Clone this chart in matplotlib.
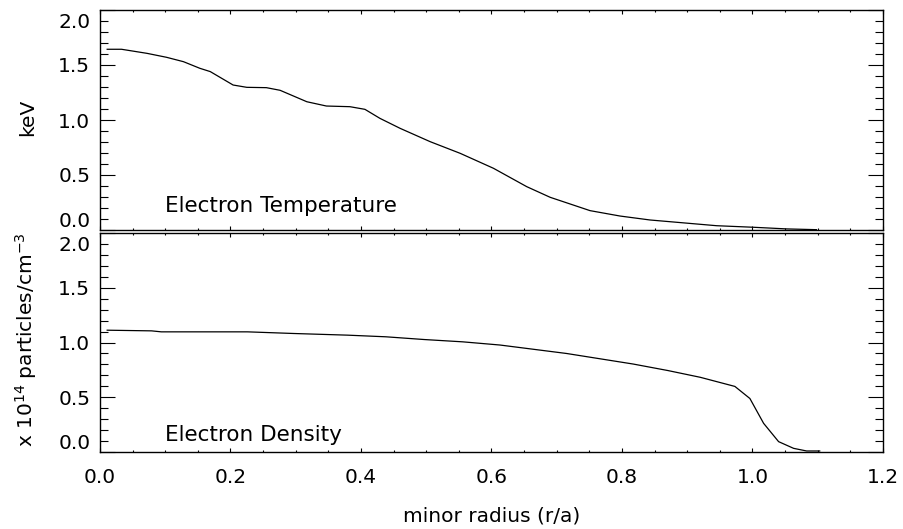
import matplotlib
matplotlib.use("Agg")
import matplotlib.pyplot as plt
import matplotlib.ticker as ticker
from matplotlib.transforms import ScaledTranslation

plt.rcParams["font.family"] = ["DejaVu Sans"]
plt.rcParams["mathtext.fontset"] = "dejavusans"

# electron temperature profile (keV) vs minor radius r/a
r_te = [0.011, 0.033, 0.072, 0.102, 0.128, 0.153, 0.169, 0.204, 0.225, 0.255,
        0.276, 0.317, 0.347, 0.383, 0.406, 0.429, 0.460, 0.506, 0.552, 0.603,
        0.654, 0.690, 0.751, 0.797, 0.843, 0.945, 1.001, 1.052, 1.098]
te = [1.643, 1.643, 1.606, 1.570, 1.530, 1.470, 1.440, 1.318, 1.297, 1.294,
      1.270, 1.166, 1.127, 1.121, 1.097, 1.015, 0.924, 0.803, 0.697, 0.561,
      0.394, 0.297, 0.176, 0.127, 0.091, 0.039, 0.025, 0.010, 0.003]

# electron density profile (1e14 cm^-3)
r_ne = [0.011, 0.079, 0.094, 0.226, 0.297, 0.379, 0.438, 0.497, 0.556, 0.613,
        0.715, 0.817, 0.870, 0.920, 0.973, 0.996, 1.017, 1.040, 1.063, 1.083,
        1.103]
ne = [1.112, 1.106, 1.097, 1.097, 1.082, 1.067, 1.052, 1.027, 1.006, 0.977,
      0.900, 0.804, 0.745, 0.683, 0.600, 0.490, 0.264, 0.097, 0.036, 0.012,
      0.012]

yticks = [0.0, 0.5, 1.0, 1.5, 2.0]
xticks = [0.0, 0.2, 0.4, 0.6, 0.8, 1.0, 1.2]
fs = 14.5

W, H = 904, 529
fig = plt.figure(figsize=(W / 100, H / 100), dpi=100)
ax1 = fig.add_axes([100 / W, 1 - 230 / H, 783 / W, 220 / H])
ax2 = fig.add_axes([100 / W, 1 - 452.3 / H, 783 / W, 219.6 / H])

ax1.plot(r_te, te, color="k", linewidth=0.9)
ax2.plot(r_ne, ne, color="k", linewidth=0.9)

for ax in (ax1, ax2):
    ax.set_xlim(0, 1.2)
    ax.set_ylim(0, 2.0)
    ax.set_xticks(xticks)
    ax.set_yticks(yticks)
    ax.xaxis.set_minor_locator(ticker.MultipleLocator(0.05))
    ax.yaxis.set_minor_locator(ticker.MultipleLocator(0.1))
    ax.xaxis.set_major_formatter(ticker.FormatStrFormatter("%.1f"))
    ax.yaxis.set_major_formatter(ticker.FormatStrFormatter("%.1f"))
    ax.tick_params(axis="both", which="both", direction="in", top=True,
                   right=True, labelsize=fs, width=0.8)
    ax.tick_params(axis="y", which="major", length=10.8, pad=7)
    ax.tick_params(axis="y", which="minor", length=5.5)
    ax.tick_params(axis="x", which="major", length=3.2, pad=11)
    ax.tick_params(axis="x", which="minor", length=1.6)
    for s in ax.spines.values():
        s.set_linewidth(1.0)

ax1.tick_params(labelbottom=False)

# end labels sit inside the axis range, like the original
shift = 10.7 / 100
for ax in (ax1, ax2):
    ticks = ax.yaxis.get_major_ticks()
    lb = ticks[0].label1
    lb.set_transform(lb.get_transform() + ScaledTranslation(0, shift, fig.dpi_scale_trans))
    lt = ticks[-1].label1
    lt.set_transform(lt.get_transform() + ScaledTranslation(0, -shift, fig.dpi_scale_trans))

ax1.text(0.1, 0.166, "Electron Temperature", fontsize=15.5, va="baseline")
ax2.text(0.1, 0.106, "Electron Density", fontsize=15.5, va="baseline")

fig.text(33 / W, 1 - 117.5 / H, "keV", fontsize=fs, rotation=90,
         rotation_mode="anchor", ha="center", va="baseline")
fig.text(33 / W, 1 - 340 / H, r"x 10$^{14}$ particles/cm$^{-3}$", fontsize=fs,
         rotation=90, rotation_mode="anchor", ha="center", va="baseline")

ax2.set_xlabel("minor radius (r/a)", fontsize=fs, labelpad=14)

fig.savefig("out.png", dpi=100)
